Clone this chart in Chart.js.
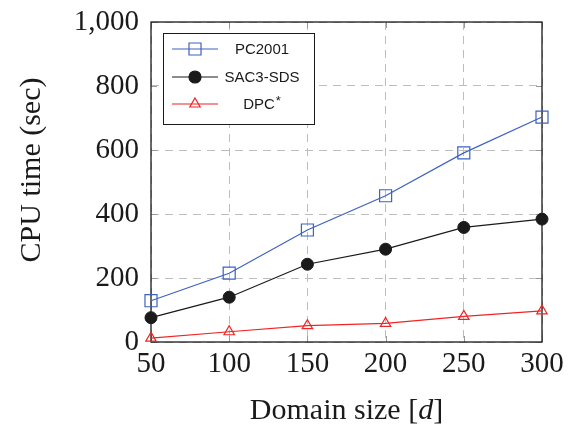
<!DOCTYPE html>
<html>
<head>
<meta charset="utf-8">
<script src="https://cdn.jsdelivr.net/npm/chart.js@4/dist/chart.umd.min.js"></script>
<style>
  html, body { margin: 0; padding: 0; background: #fff; }
  #wrap { width: 573px; height: 429px; }
</style>
</head>
<body>
<div id="wrap"><canvas id="cpuChart" width="573" height="429"></canvas></div>
<script>
// values
const domainSize = [50, 100, 150, 200, 250, 300];
const pc2001 = [129, 215, 350, 457, 591, 703];
const sac3Sds = [76, 140, 243, 290, 358, 384];
const dpc = [12, 32, 51, 58, 80, 97];

const seriesNames = ['PC2001', 'SAC3-SDS', 'DPC*'];
const yTitle = 'CPU time (sec)';
const xTitle = ['Domain size [', 'd', ']'];

const serif = '"Liberation Serif", "DejaVu Serif", serif';
const sans = '"Liberation Sans", "DejaVu Sans", sans-serif';

function pts(ys) {
    return domainSize.map((x, i) => ({ x: x, y: ys[i] }));
}

function marker(ctx, style, x, y, r, stroke, fill) {
    ctx.save();
    ctx.lineWidth = 1.2;
    ctx.strokeStyle = stroke;
    ctx.fillStyle = fill;
    ctx.beginPath();
    if (style === 'rect') {
        const s = Math.SQRT1_2 * r;
        ctx.rect(x - s, y - s, 2 * s, 2 * s);
    } else if (style === 'triangle') {
        ctx.moveTo(x, y - r);
        ctx.lineTo(x + r * Math.sin(2 * Math.PI / 3), y + r / 2);
        ctx.lineTo(x - r * Math.sin(2 * Math.PI / 3), y + r / 2);
        ctx.closePath();
    } else {
        ctx.arc(x, y, r, 0, Math.PI * 2);
    }
    if (fill !== 'transparent') ctx.fill();
    ctx.stroke();
    ctx.restore();
}

// frame, inner ticks, axis titles and boxed legend
const decorations = {
    id: 'decorations',
    beforeDatasetsDraw(chart) {
        const { ctx, chartArea: a, scales } = chart;
        ctx.save();
        // small inner tick marks like pgfplots
        ctx.strokeStyle = '#9a9a9a';
        ctx.lineWidth = 1;
        ctx.beginPath();
        scales.x.ticks.forEach(t => {
            const px = Math.round(scales.x.getPixelForValue(t.value)) + 0.5;
            ctx.moveTo(px, a.bottom); ctx.lineTo(px, a.bottom - 6);
            ctx.moveTo(px, a.top); ctx.lineTo(px, a.top + 6);
        });
        scales.y.ticks.forEach(t => {
            const py = Math.round(scales.y.getPixelForValue(t.value)) + 0.5;
            ctx.moveTo(a.left, py); ctx.lineTo(a.left + 6, py);
            ctx.moveTo(a.right, py); ctx.lineTo(a.right - 6, py);
        });
        ctx.stroke();
        // axis box
        ctx.strokeStyle = '#1a1a1a';
        ctx.lineWidth = 1.3;
        ctx.strokeRect(a.left, a.top, a.right - a.left, a.bottom - a.top);
        ctx.restore();
    },
    afterDatasetsDraw(chart) {
        const { ctx, chartArea: a } = chart;
        ctx.save();
        // legend box
        const lx = a.left + 12, ly = a.top + 11, lw = 151, lh = 91;
        ctx.fillStyle = '#fff';
        ctx.fillRect(lx, ly, lw, lh);
        ctx.strokeStyle = '#1a1a1a';
        ctx.lineWidth = 1;
        ctx.strokeRect(lx + 0.5, ly + 0.5, lw, lh);
        const rows = [16, 44, 71];
        chart.data.datasets.forEach((ds, i) => {
            const ry = ly + rows[i];
            ctx.strokeStyle = ds.borderColor;
            ctx.lineWidth = ds.borderWidth;
            ctx.beginPath();
            ctx.moveTo(lx + 9, ry); ctx.lineTo(lx + 55, ry);
            ctx.stroke();
            marker(ctx, ds.pointStyle, lx + 32, ry, ds.pointRadius, ds.pointBorderColor, ds.pointBackgroundColor);
            ctx.fillStyle = '#1a1a1a';
            ctx.textBaseline = 'middle';
            let label = ds.label, star = '';
            if (label.endsWith('*')) { label = label.slice(0, -1); star = '*'; }
            ctx.font = '15px ' + sans;
            const w1 = ctx.measureText(label).width;
            ctx.font = '13px ' + sans;
            const w2 = star ? ctx.measureText(star).width + 1 : 0;
            const sx = lx + 99 - (w1 + w2) / 2;
            ctx.textAlign = 'left';
            ctx.font = '15px ' + sans;
            ctx.fillText(label, sx, ry + 1);
            if (star) {
                ctx.font = '13px ' + sans;
                ctx.fillText(star, sx + w1 + 1, ry - 3);
            }
        });

        // y axis title
        ctx.fillStyle = '#1a1a1a';
        ctx.save();
        ctx.translate(32, 170);
        ctx.rotate(-Math.PI / 2);
        ctx.font = '30px ' + serif;
        ctx.textAlign = 'center';
        ctx.textBaseline = 'middle';
        ctx.fillText(yTitle, 0, 0);
        ctx.restore();

        // x axis title with italic d
        const fonts = ['30px ' + serif, 'italic 30px ' + serif, '30px ' + serif];
        let total = 0;
        const widths = xTitle.map((s, i) => { ctx.font = fonts[i]; const w = ctx.measureText(s).width; total += w; return w; });
        let cx = (a.left + a.right) / 2 - total / 2;
        ctx.textAlign = 'left';
        ctx.textBaseline = 'alphabetic';
        xTitle.forEach((s, i) => {
            ctx.font = fonts[i];
            ctx.fillText(s, cx, 419);
            cx += widths[i];
        });
        ctx.restore();
    }
};

const ctxCpu = document.getElementById('cpuChart').getContext('2d');
const chartCpu = new Chart(ctxCpu, {
    type: 'line',
    data: {
        datasets: [{
            label: seriesNames[0],
            data: pts(pc2001),
            clip: false,
            borderColor: '#3c62c2',
            borderWidth: 1.2,
            pointStyle: 'rect',
            pointRadius: 8.5,
            pointBorderColor: '#3c62c2',
            pointBackgroundColor: 'transparent',
            pointBorderWidth: 1.2,
        }, {
            label: seriesNames[1],
            data: pts(sac3Sds),
            clip: false,
            borderColor: '#1a1a1a',
            borderWidth: 1.2,
            pointStyle: 'circle',
            pointRadius: 6,
            pointBorderColor: '#1a1a1a',
            pointBackgroundColor: '#1a1a1a',
            pointBorderWidth: 1,
        }, {
            label: seriesNames[2],
            data: pts(dpc),
            clip: false,
            borderColor: '#f02424',
            borderWidth: 1.2,
            pointStyle: 'triangle',
            pointRadius: 6,
            pointBorderColor: '#f02424',
            pointBackgroundColor: 'transparent',
            pointBorderWidth: 1.2,
        }],
    },
    options: {
        responsive: false,
        animation: false,
        locale: 'en-US',
        layout: { padding: { top: 22, right: 31, left: 0, bottom: 0 } },
        plugins: {
            legend: { display: false },
            tooltip: { enabled: false },
        },
        scales: {
            x: {
                type: 'linear',
                min: 50,
                max: 300,
                ticks: { stepSize: 50, padding: 5, color: '#1a1a1a', font: { family: serif, size: 29 } },
                grid: { color: '#bdbdbd', lineWidth: 1, drawTicks: false },
                border: { display: false, dash: [8, 6] },
                afterFit: (s) => { s.height = 87; s.paddingLeft = 0; s.paddingRight = 0; },
            },
            y: {
                min: 0,
                max: 1000,
                ticks: { stepSize: 200, padding: 12, color: '#1a1a1a', font: { family: serif, size: 29 } },
                grid: { color: '#bdbdbd', lineWidth: 1, drawTicks: false },
                border: { display: false, dash: [8, 6] },
                afterFit: (s) => { s.width = 151; s.paddingTop = 0; s.paddingBottom = 0; },
            },
        },
    },
    plugins: [decorations],
});
</script>
</body>
</html>
